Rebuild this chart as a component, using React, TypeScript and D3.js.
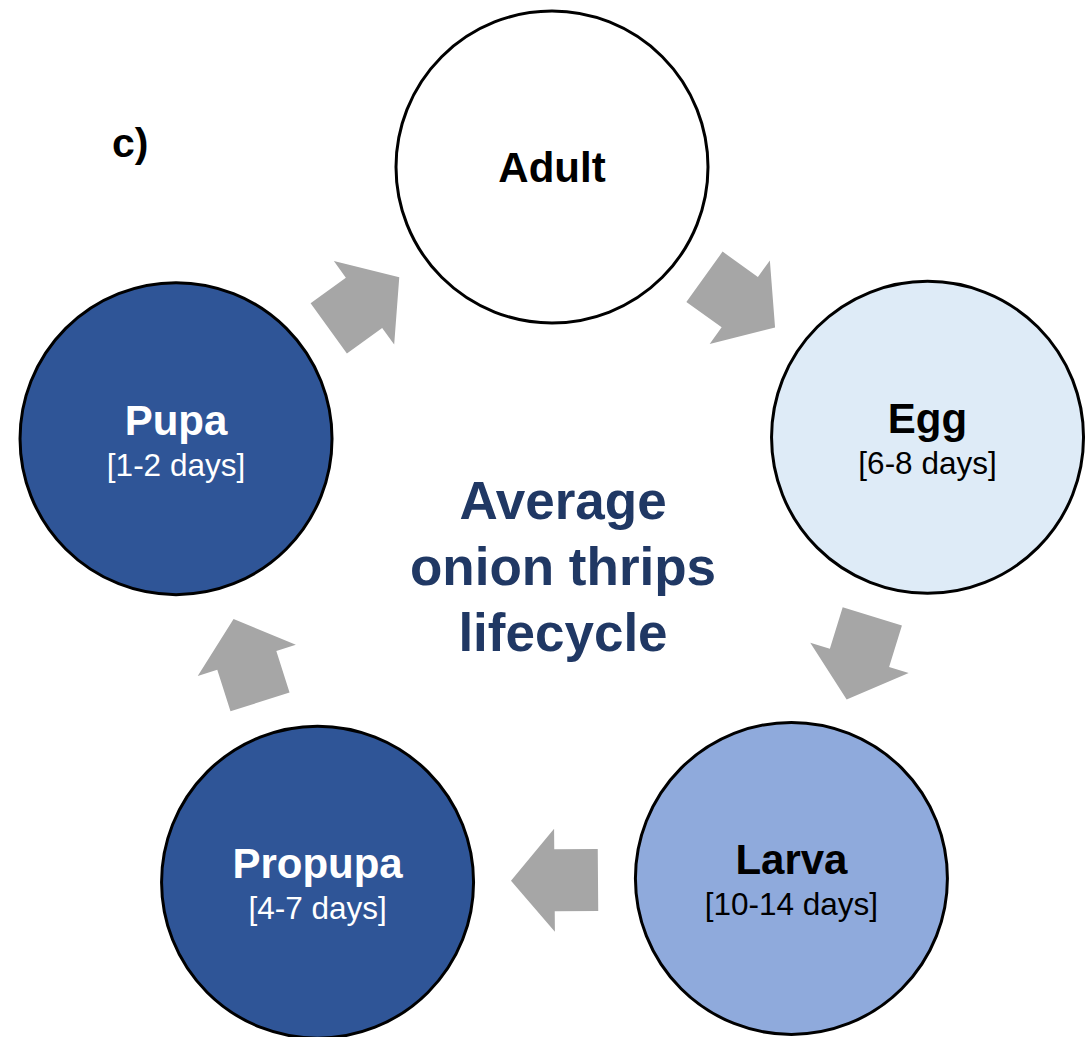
import React from "react";
import * as d3 from "d3";

const stages = ["Adult", "Egg", "Larva", "Propupa", "Pupa"];
const durations = ["", "[6-8 days]", "[10-14 days]", "[4-7 days]", "[1-2 days]"];
const angles = [-90, -18.5, 52.8, 126.3, 198.3];
const fills = ["#FFFFFF", "#DEEBF7", "#8FAADC", "#2F5597", "#2F5597"];
const textColors = ["#000000", "#000000", "#000000", "#FFFFFF", "#FFFFFF"];
const centerLines = ["Average", "onion thrips", "lifecycle"];
const panelLabel = "c)";

const W = 1086;
const H = 1037;
const CX = 552;
const CY = 563;
const R = 396;
const NODE_R = 156;

export default function App() {
  const rad = d3.scaleLinear().domain([0, 180]).range([0, Math.PI]);
  const nodes = stages.map((name, i) => {
    const a = rad(angles[i]);
    return {
      name,
      dur: durations[i],
      x: CX + R * Math.cos(a),
      y: CY + R * Math.sin(a),
      fill: fills[i],
      tc: textColors[i],
    };
  });

  const line = d3.line<[number, number]>();
  const arrows = nodes.map((n, i) => {
    const m = nodes[(i + 1) % nodes.length];
    const mx = (n.x + m.x) / 2;
    const my = (n.y + m.y) / 2;
    const dx = m.x - n.x;
    const dy = m.y - n.y;
    const len = Math.hypot(dx, dy);
    const ux = dx / len, uy = dy / len;
    const vx = -uy, vy = ux;
    const pt = (u: number, v: number): [number, number] => [mx + ux * u + vx * v, my + uy * u + vy * v];
    const tail = -43.5, base = 0, tip = 43.5, bw = 31, hw = 51.5;
    const pts: [number, number][] = [
      pt(tail, -bw), pt(base, -bw), pt(base, -hw), pt(tip, 0),
      pt(base, hw), pt(base, bw), pt(tail, bw), pt(tail, -bw),
    ];
    return line(pts) + "Z";
  });

  const font = "'Liberation Sans', Arial, Helvetica, sans-serif";

  return (
    <svg width={W} height={H} style={{ position: "absolute", left: 0, top: 0, background: "#fff" }}>
      {arrows.map((d, i) => (
        <path key={"a" + i} d={d} fill="#A6A6A6" />
      ))}
      {nodes.map((n, i) => (
        <g key={n.name}>
          <circle cx={n.x} cy={n.y} r={NODE_R} fill={n.fill} stroke="#000" strokeWidth={3} />
          {n.dur ? (
            <>
              <text x={n.x} y={n.y - 4} textAnchor="middle" fontFamily={font} fontWeight="bold" fontSize={42} fill={n.tc}>
                {n.name}
              </text>
              <text x={n.x} y={n.y + 37} textAnchor="middle" fontFamily={font} fontSize={31.5} fill={n.tc}>
                {n.dur}
              </text>
            </>
          ) : (
            <text x={n.x} y={n.y + 15} textAnchor="middle" fontFamily={font} fontWeight="bold" fontSize={42} fill={n.tc}>
              {n.name}
            </text>
          )}
        </g>
      ))}
      {centerLines.map((t, i) => (
        <text key={t} x={563} y={519 + i * 66} textAnchor="middle" fontFamily={font} fontWeight="bold" fontSize={53} fill="#203864">
          {t}
        </text>
      ))}
      <text x={112} y={157} fontFamily={font} fontWeight="bold" fontSize={41} fill="#000">
        {panelLabel}
      </text>
    </svg>
  );
}
